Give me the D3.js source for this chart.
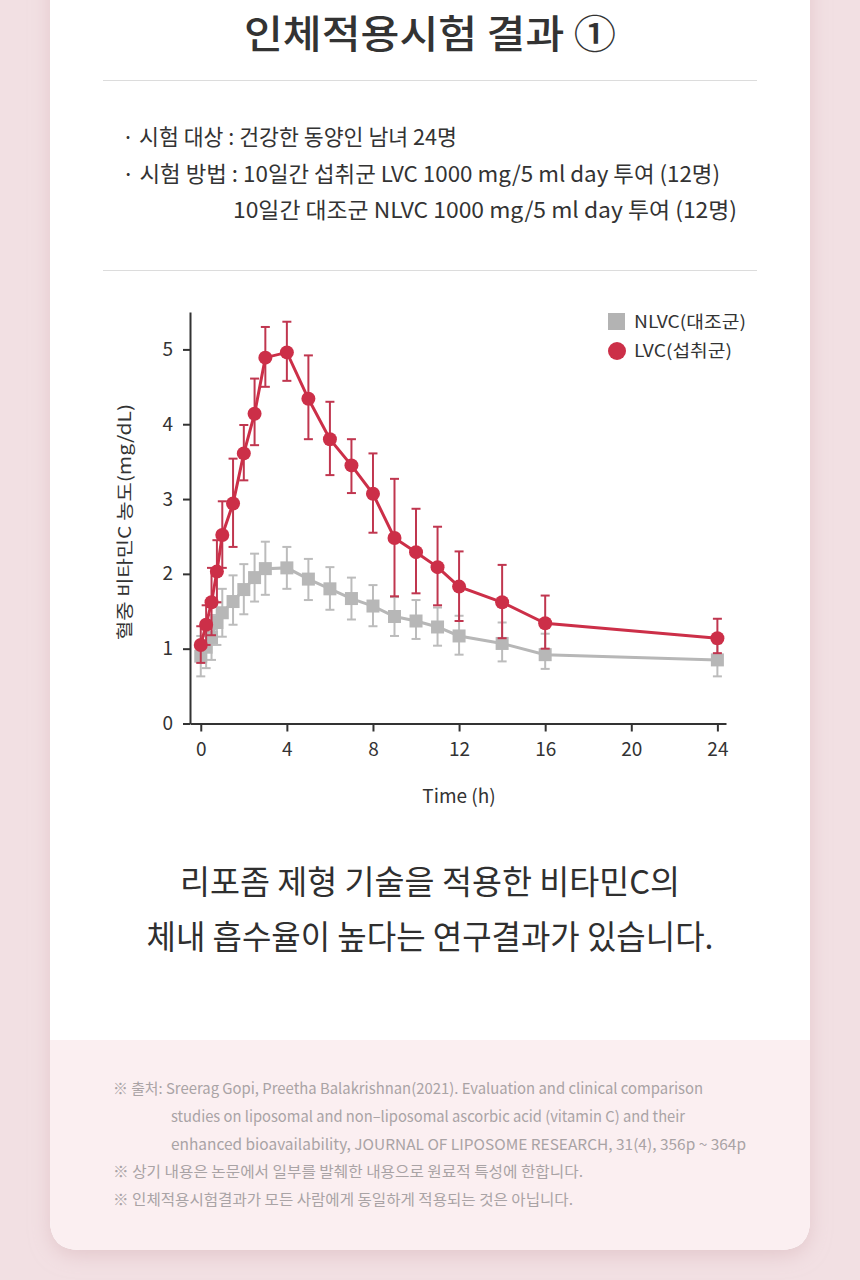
<!DOCTYPE html>
<html><head><meta charset="utf-8">
<script src="https://cdn.jsdelivr.net/npm/d3@7"></script>
<style>
html,body{margin:0;padding:0;background:#f2e0e3;}
svg{display:block;}
text{font-family:"Noto Sans CJK KR","Noto Sans",sans-serif;}
</style></head>
<body>
<svg id="c" width="860" height="1280"></svg>
<script>
// ---- data ----
const times = [0,0.25,0.5,0.75,1,1.5,2,2.5,3,4,5,6,7,8,9,10,11,12,14,16,24];
const lvcMean = [1.05,1.32,1.62,2.03,2.52,2.94,3.61,4.14,4.89,4.96,4.34,3.80,3.45,3.07,2.48,2.29,2.09,1.83,1.62,1.34,1.14];
const lvcLow  = [0.81,1.05,1.18,1.62,2.08,2.36,3.25,3.72,4.50,4.58,3.80,3.32,3.08,2.55,1.70,1.74,1.58,1.37,1.14,1.00,0.94];
const lvcHigh = [1.30,1.58,2.08,2.45,2.97,3.54,3.99,4.61,5.30,5.37,4.92,4.30,3.80,3.61,3.27,2.87,2.63,2.30,2.12,1.71,1.40];
const nlvcMean = [0.90,1.02,1.15,1.35,1.48,1.63,1.79,1.95,2.07,2.08,1.93,1.80,1.67,1.57,1.43,1.37,1.29,1.17,1.07,0.92,0.85];
const nlvcLow  = [0.63,0.74,0.85,1.05,1.16,1.32,1.46,1.63,1.72,1.80,1.65,1.52,1.39,1.30,1.17,1.13,1.04,0.92,0.83,0.73,0.63];
const nlvcHigh = [1.17,1.30,1.45,1.62,1.80,1.98,2.13,2.27,2.43,2.36,2.20,2.09,1.95,1.85,1.69,1.65,1.55,1.44,1.35,1.20,1.07];
const xTicks = [0,4,8,12,16,20,24];
const yTicks = [0,1,2,3,4,5];
const legendLabels = ["NLVC(대조군)","LVC(섭취군)"];
const titleText = "인체적용시험 결과 ①";
const infoLines = ["· 시험 대상 : 건강한 동양인 남녀 24명","· 시험 방법 : 10일간 섭취군 LVC 1000 mg/5 ml day 투여 (12명)","10일간 대조군 NLVC 1000 mg/5 ml day 투여 (12명)"];
const xTitle = "Time (h)";
const yTitle = "혈중 비타민C 농도(mg/dL)";
const summaryLines = ["리포좀 제형 기술을 적용한 비타민C의","체내 흡수율이 높다는 연구결과가 있습니다."];
const noteLines = ["※ 출처: Sreerag Gopi, Preetha Balakrishnan(2021). Evaluation and clinical comparison","studies on liposomal and non–liposomal ascorbic acid (vitamin C) and their","enhanced bioavailability, JOURNAL OF LIPOSOME RESEARCH, 31(4), 356p ~ 364p","※ 상기 내용은 논문에서 일부를 발췌한 내용으로 원료적 특성에 한합니다.","※ 인체적용시험결과가 모든 사람에게 동일하게 적용되는 것은 아닙니다."];

const svg = d3.select("#c");
const defs = svg.append("defs");
const f = defs.append("filter").attr("id","sh").attr("x","-10%").attr("y","-10%").attr("width","120%").attr("height","130%");
f.append("feDropShadow").attr("dx",0).attr("dy",6).attr("stdDeviation",10).attr("flood-color","#d9b7bd").attr("flood-opacity",0.6);
const clip = defs.append("clipPath").attr("id","cardclip");
clip.append("path").attr("d", roundedBottom(50,-40,760,1290,30));

function roundedBottom(x,y,w,h,r){
  return `M${x},${y}H${x+w}V${y+h-r}Q${x+w},${y+h} ${x+w-r},${y+h}H${x+r}Q${x},${y+h} ${x},${y+h-r}Z`;
}
// card
svg.append("path").attr("d", roundedBottom(50,-40,760,1290,30)).attr("fill","#fff").attr("filter","url(#sh)");
svg.append("rect").attr("clip-path","url(#cardclip)").attr("x",50).attr("y",1040).attr("width",760).attr("height",220).attr("fill","#fbeff1");

// title
svg.append("text").attr("x",430).attr("y",48).attr("text-anchor","middle").attr("font-size",39).attr("font-weight",500)
  .attr("fill","#333").attr("textLength",372).attr("lengthAdjust","spacingAndGlyphs").text(titleText);
svg.append("line").attr("x1",103).attr("x2",757).attr("y1",80.5).attr("y2",80.5).attr("stroke","#dcdcdc");
svg.append("line").attr("x1",103).attr("x2",757).attr("y1",270.5).attr("y2",270.5).attr("stroke","#dcdcdc");

const infoPos = [{x:122,y:145,w:335},{x:122,y:182,w:598},{x:233,y:218,w:504}];
infoLines.forEach((t,i)=>{
  svg.append("text").attr("x",infoPos[i].x).attr("y",infoPos[i].y).attr("font-size",22).attr("fill","#333")
   .attr("textLength",infoPos[i].w).attr("lengthAdjust","spacingAndGlyphs").text(t);
});

// chart
const x = d3.scaleLinear().domain([-0.5,24.4]).range([190,726]);
const y = d3.scaleLinear().domain([0,5.5]).range([723.5,312]);
const g = svg.append("g");

const xAxis = g.append("g").attr("transform","translate(0,723.5)")
  .call(d3.axisBottom(x).tickValues(xTicks).tickFormat(d3.format("d")).tickSize(8).tickPadding(6).tickSizeOuter(0));
const yAxis = g.append("g").attr("transform","translate(190,0)")
  .call(d3.axisLeft(y).tickValues(yTicks).tickFormat(d3.format("d")).tickSize(7).tickPadding(10).tickSizeOuter(0));
[xAxis,yAxis].forEach(a=>{
  a.selectAll("path,line").attr("stroke","#333").attr("stroke-width",2);
  a.selectAll("text").attr("font-size",19).attr("fill","#333").attr("font-family","Roboto, 'Noto Sans', sans-serif");
});
xAxis.selectAll("text").attr("dy","0.95em");

g.append("text").attr("x",459).attr("y",803).attr("text-anchor","middle").attr("font-size",19).attr("fill","#333")
  .attr("font-family","Roboto, 'Noto Sans', sans-serif").text(xTitle);
g.append("text").attr("transform","translate(131,522) rotate(-90)").attr("text-anchor","middle").attr("font-size",17.5)
  .attr("fill","#333").attr("textLength",236).attr("lengthAdjust","spacingAndGlyphs").text(yTitle);

function series(mean, low, high, col, errCol, lw, marker){
  const data = times.map((t,i)=>({t, m:mean[i], lo:low[i], hi:high[i]}));
  const sg = g.append("g");
  const eb = sg.append("g").attr("stroke",errCol).attr("stroke-width",2);
  data.forEach(d=>{
    eb.append("line").attr("x1",x(d.t)).attr("x2",x(d.t)).attr("y1",y(d.lo)).attr("y2",y(d.hi));
    eb.append("line").attr("x1",x(d.t)-4.5).attr("x2",x(d.t)+4.5).attr("y1",y(d.lo)).attr("y2",y(d.lo));
    eb.append("line").attr("x1",x(d.t)-4.5).attr("x2",x(d.t)+4.5).attr("y1",y(d.hi)).attr("y2",y(d.hi));
  });
  sg.append("path").datum(data).attr("fill","none").attr("stroke",col).attr("stroke-width",lw)
    .attr("d", d3.line().x(d=>x(d.t)).y(d=>y(d.m)));
  if(marker==="sq"){
    sg.selectAll("rect").data(data).join("rect").attr("x",d=>x(d.t)-6.5).attr("y",d=>y(d.m)-6.5)
      .attr("width",13).attr("height",13).attr("fill",col);
  } else {
    sg.selectAll("circle").data(data).join("circle").attr("cx",d=>x(d.t)).attr("cy",d=>y(d.m)).attr("r",7).attr("fill",col);
  }
}
series(nlvcMean,nlvcLow,nlvcHigh,"#b7b7b7","#bcbcbc",3,"sq");
series(lvcMean,lvcLow,lvcHigh,"#cc2f48","#c0364f",3,"ci");

// legend
const lg = g.append("g");
lg.append("rect").attr("x",608).attr("y",313).attr("width",17).attr("height",17).attr("fill","#b3b3b3");
lg.append("circle").attr("cx",617).attr("cy",351).attr("r",9).attr("fill","#cc2f48");
lg.append("text").attr("x",634).attr("y",328).attr("font-size",17).attr("fill","#333").attr("textLength",112).attr("lengthAdjust","spacingAndGlyphs").text(legendLabels[0]);
lg.append("text").attr("x",634).attr("y",357).attr("font-size",17).attr("fill","#333").attr("textLength",98).attr("lengthAdjust","spacingAndGlyphs").text(legendLabels[1]);

// summary
const sumPos = [{y:894,w:500},{y:949,w:567}];
summaryLines.forEach((t,i)=>{
  svg.append("text").attr("x",430).attr("y",sumPos[i].y).attr("text-anchor","middle").attr("font-size",33).attr("font-weight",400)
    .attr("fill","#2f2f2f").attr("textLength",sumPos[i].w).attr("lengthAdjust","spacingAndGlyphs").text(t);
});

// notes
const notePos = [{x:113,y:1094,w:590},{x:171,y:1122,w:514},{x:171,y:1150,w:575},{x:113,y:1177,w:470},{x:113,y:1205,w:460}];
noteLines.forEach((t,i)=>{
  svg.append("text").attr("x",notePos[i].x).attr("y",notePos[i].y).attr("font-size",15).attr("fill","#a9a3a5")
    .attr("textLength",notePos[i].w).attr("lengthAdjust","spacingAndGlyphs").text(t);
});
</script>
</body></html>
